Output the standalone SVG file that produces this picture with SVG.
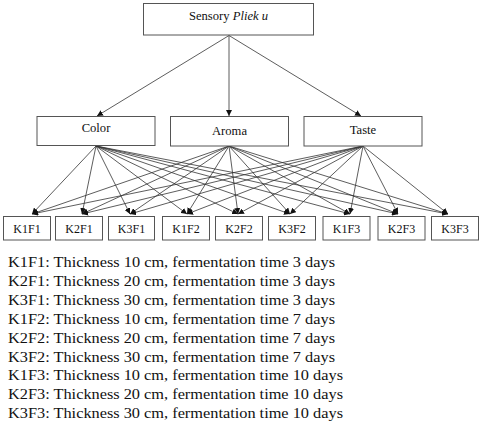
<svg xmlns="http://www.w3.org/2000/svg" width="480" height="425" viewBox="0 0 480 425">
<style>
text{font-family:'Liberation Serif','Times New Roman','DejaVu Serif',serif;fill:#111}
.box{fill:#fff;stroke:#555;stroke-width:1}
.lbl{font-size:12.6px;text-anchor:middle}
.sm{font-size:12px;text-anchor:middle}
.leg{font-size:15.5px}
.c{stroke:#333;stroke-width:0.8;fill:none;marker-end:url(#ah)}
</style>
<defs>
<marker id="ah" markerUnits="userSpaceOnUse" markerWidth="7" markerHeight="6" refX="6" refY="3" orient="auto">
<path d="M0,0 L6,3 L0,6 Z" fill="#111"/>
</marker>
</defs>
<rect width="480" height="425" fill="#fff"/>
<g id="connectors">
<line class="c" x1="229" y1="35.5" x2="97" y2="116"/>
<line class="c" x1="229" y1="35.5" x2="229" y2="116"/>
<line class="c" x1="229" y1="35.5" x2="361" y2="116"/>
<line class="c" x1="96" y1="146" x2="32" y2="214"/>
<line class="c" x1="96" y1="146" x2="82" y2="214"/>
<line class="c" x1="96" y1="146" x2="130" y2="214"/>
<line class="c" x1="96" y1="146" x2="187" y2="214"/>
<line class="c" x1="96" y1="146" x2="238" y2="214"/>
<line class="c" x1="96" y1="146" x2="290" y2="214"/>
<line class="c" x1="96" y1="146" x2="350" y2="214"/>
<line class="c" x1="96" y1="146" x2="398" y2="214"/>
<line class="c" x1="96" y1="146" x2="448" y2="214"/>
<line class="c" x1="229" y1="146" x2="32" y2="214"/>
<line class="c" x1="229" y1="146" x2="82" y2="214"/>
<line class="c" x1="229" y1="146" x2="130" y2="214"/>
<line class="c" x1="229" y1="146" x2="187" y2="214"/>
<line class="c" x1="229" y1="146" x2="238" y2="214"/>
<line class="c" x1="229" y1="146" x2="290" y2="214"/>
<line class="c" x1="229" y1="146" x2="350" y2="214"/>
<line class="c" x1="229" y1="146" x2="398" y2="214"/>
<line class="c" x1="229" y1="146" x2="448" y2="214"/>
<line class="c" x1="363" y1="146" x2="32" y2="214"/>
<line class="c" x1="363" y1="146" x2="82" y2="214"/>
<line class="c" x1="363" y1="146" x2="130" y2="214"/>
<line class="c" x1="363" y1="146" x2="187" y2="214"/>
<line class="c" x1="363" y1="146" x2="238" y2="214"/>
<line class="c" x1="363" y1="146" x2="290" y2="214"/>
<line class="c" x1="363" y1="146" x2="350" y2="214"/>
<line class="c" x1="363" y1="146" x2="398" y2="214"/>
<line class="c" x1="363" y1="146" x2="448" y2="214"/>
</g>
<g id="sensory">
<rect class="box" x="143.5" y="3.5" width="170" height="31.5"/>
<text class="lbl" x="228.5" y="20">Sensory <tspan font-style="italic">Pliek u</tspan></text>
</g>
<g id="color">
<rect class="box" x="37" y="116.5" width="118" height="29"/>
<text class="lbl" x="96" y="132">Color</text>
</g>
<g id="aroma">
<rect class="box" x="170.5" y="116.5" width="118" height="29.5"/>
<text class="lbl" x="229.5" y="135">Aroma</text>
</g>
<g id="taste">
<rect class="box" x="304" y="116.5" width="118" height="29.5"/>
<text class="lbl" x="363" y="134">Taste</text>
</g>
<g id="K1F1"><rect class="box" x="3.5" y="216.5" width="47" height="23.5"/><text class="sm" x="27" y="233">K1F1</text></g>
<g id="K2F1"><rect class="box" x="55.5" y="216.5" width="47" height="23.5"/><text class="sm" x="79" y="233">K2F1</text></g>
<g id="K3F1"><rect class="box" x="108.5" y="216.5" width="46" height="23.5"/><text class="sm" x="131.5" y="233">K3F1</text></g>
<g id="K1F2"><rect class="box" x="162.5" y="216.5" width="47" height="23.5"/><text class="sm" x="186" y="233">K1F2</text></g>
<g id="K2F2"><rect class="box" x="215.5" y="216.5" width="47" height="23.5"/><text class="sm" x="239" y="233">K2F2</text></g>
<g id="K3F2"><rect class="box" x="268.5" y="216.5" width="47" height="23.5"/><text class="sm" x="292" y="233">K3F2</text></g>
<g id="K1F3"><rect class="box" x="323" y="216.5" width="47" height="23.5"/><text class="sm" x="346.5" y="233">K1F3</text></g>
<g id="K2F3"><rect class="box" x="378" y="216.5" width="47" height="23.5"/><text class="sm" x="401.5" y="233">K2F3</text></g>
<g id="K3F3"><rect class="box" x="431.5" y="216.5" width="47" height="23.5"/><text class="sm" x="455" y="233">K3F3</text></g>
<g id="legend">
<text class="leg" x="8" y="267" textLength="327" lengthAdjust="spacingAndGlyphs">K1F1: Thickness 10 cm, fermentation time 3 days</text>
<text class="leg" x="8" y="285.9" textLength="327" lengthAdjust="spacingAndGlyphs">K2F1: Thickness 20 cm, fermentation time 3 days</text>
<text class="leg" x="8" y="304.8" textLength="327" lengthAdjust="spacingAndGlyphs">K3F1: Thickness 30 cm, fermentation time 3 days</text>
<text class="leg" x="8" y="323.7" textLength="327" lengthAdjust="spacingAndGlyphs">K1F2: Thickness 10 cm, fermentation time 7 days</text>
<text class="leg" x="8" y="342.6" textLength="327" lengthAdjust="spacingAndGlyphs">K2F2: Thickness 20 cm, fermentation time 7 days</text>
<text class="leg" x="8" y="361.5" textLength="327" lengthAdjust="spacingAndGlyphs">K3F2: Thickness 30 cm, fermentation time 7 days</text>
<text class="leg" x="8" y="380.4" textLength="335" lengthAdjust="spacingAndGlyphs">K1F3: Thickness 10 cm, fermentation time 10 days</text>
<text class="leg" x="8" y="399.3" textLength="335" lengthAdjust="spacingAndGlyphs">K2F3: Thickness 20 cm, fermentation time 10 days</text>
<text class="leg" x="8" y="418.2" textLength="335" lengthAdjust="spacingAndGlyphs">K3F3: Thickness 30 cm, fermentation time 10 days</text>
</g>
</svg>
